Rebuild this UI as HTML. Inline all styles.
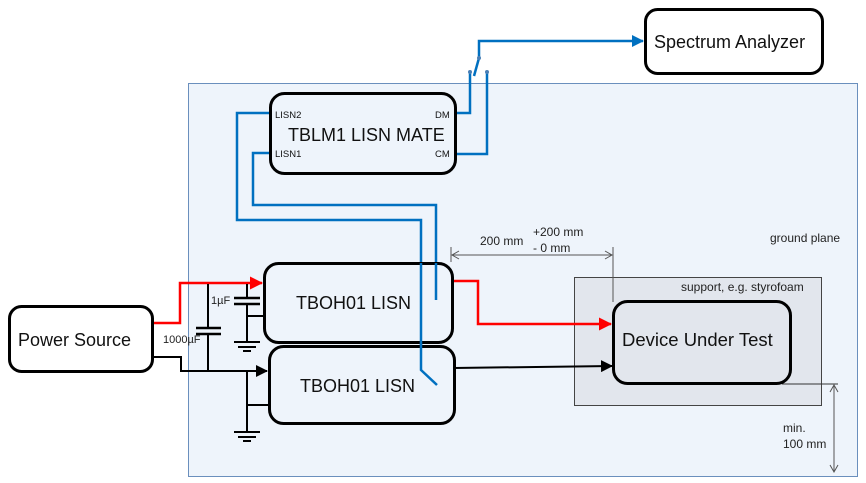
<!DOCTYPE html>
<html><head><meta charset="utf-8"><style>
html,body{margin:0;padding:0;background:#fff;}
svg{display:block;font-family:"Liberation Sans",sans-serif;}
</style></head><body>
<svg width="866" height="483" viewBox="0 0 866 483" xmlns="http://www.w3.org/2000/svg">
<defs>
<marker id="ak" markerWidth="12" markerHeight="12" refX="11" refY="6" orient="auto" markerUnits="userSpaceOnUse"><path d="M0,0 L12,6 L0,12 z" fill="#000"/></marker>
<marker id="ar" markerWidth="13" markerHeight="13" refX="12" refY="6.5" orient="auto" markerUnits="userSpaceOnUse"><path d="M0,0 L13,6.5 L0,13 z" fill="#f00"/></marker>
<marker id="ab" markerWidth="12" markerHeight="12" refX="11" refY="6" orient="auto" markerUnits="userSpaceOnUse"><path d="M0,0 L12,6 L0,12 z" fill="#0070c0"/></marker>
</defs>
<!-- ground plane -->
<rect x="188.5" y="83.5" width="669" height="393" fill="#eef4fb" stroke="#6a8fbd" stroke-width="1"/>
<text x="770" y="242" font-size="12" fill="#222">ground plane</text>
<!-- support -->
<rect x="574.5" y="277.5" width="247" height="128" fill="#e2e6ed" stroke="#444" stroke-width="1"/>
<text x="681" y="291" font-size="12" fill="#222">support, e.g. styrofoam</text>
<!-- dimension 200mm -->
<g stroke="#555" fill="none" stroke-width="1">
<line x1="451" y1="247" x2="451" y2="262"/>
<line x1="613" y1="247" x2="613" y2="302"/>
<line x1="452" y1="255" x2="612" y2="255"/>
<polyline points="459,251 452,255 459,259"/>
<polyline points="605,251 612,255 605,259"/>
</g>
<text x="480" y="245" font-size="12" fill="#222">200 mm</text>
<text x="533" y="236" font-size="12" fill="#222">+200 mm</text>
<text x="533" y="252" font-size="12" fill="#222">- 0 mm</text>
<!-- min 100mm -->
<g stroke="#555" fill="none" stroke-width="1">
<line x1="782" y1="384" x2="838" y2="384" stroke="#333"/>
<line x1="834" y1="385" x2="834" y2="472"/>
<polyline points="830,392 834,385 838,392"/>
<polyline points="830,465 834,472 838,465"/>
</g>
<text x="783" y="432" font-size="12" fill="#222">min.</text>
<text x="783" y="448" font-size="12" fill="#222">100 mm</text>
<!-- blue wires -->
<g fill="none" stroke="#0070c0" stroke-width="2.5">
<polyline points="272,113 237,113 237,220 421,220 421,370 437,385"/>
<polyline points="272,153 253,153 253,205 436,205 436,300"/>
<polyline points="455,113 470,113 470,73"/>
<polyline points="455,154 487,154 487,73"/>
<line x1="479" y1="58" x2="474" y2="76"/>
<polyline points="479,58 479,41 643,41" marker-end="url(#ab)"/>
</g>
<circle cx="470" cy="72" r="2" fill="#4a7fb5"/>
<circle cx="487" cy="72" r="2" fill="#4a7fb5"/>
<circle cx="479" cy="58" r="2" fill="#4a7fb5"/>
<!-- red wires -->
<g fill="none" stroke="#f00" stroke-width="2.5">
<polyline points="152,323 180,323 180,283 262,283" marker-end="url(#ar)"/>
<polyline points="452,281 478,281 478,324 611,324" marker-end="url(#ar)"/>
</g>
<!-- black wires -->
<g fill="none" stroke="#000" stroke-width="2">
<polyline points="152,357 181,357 181,371 267,371" marker-end="url(#ak)"/>
<line x1="454" y1="368" x2="612" y2="366" marker-end="url(#ak)"/>
<line x1="208" y1="284" x2="208" y2="328"/>
<line x1="208" y1="334" x2="208" y2="371"/>
<line x1="196" y1="328" x2="221" y2="328" stroke-width="2.5"/>
<line x1="196" y1="334" x2="221" y2="334" stroke-width="2.5"/>
<line x1="247" y1="284" x2="247" y2="298"/>
<line x1="247" y1="304" x2="247" y2="342"/>
<line x1="234" y1="298" x2="260" y2="298" stroke-width="2.5"/>
<line x1="234" y1="304" x2="260" y2="304" stroke-width="2.5"/>
<line x1="247" y1="316" x2="265" y2="316"/>
<line x1="234" y1="342" x2="260" y2="342"/>
<line x1="238" y1="347" x2="256" y2="347"/>
<line x1="243" y1="351" x2="251" y2="351"/>
<line x1="247" y1="371" x2="247" y2="432"/>
<line x1="247" y1="405" x2="269" y2="405"/>
<line x1="234" y1="432" x2="260" y2="432"/>
<line x1="238" y1="437" x2="256" y2="437"/>
<line x1="243" y1="441" x2="251" y2="441"/>
</g>
<text x="211" y="304" font-size="11" fill="#222">1µF</text>
<text x="163" y="343" font-size="11" fill="#222">1000µF</text>
<!-- boxes -->
<g stroke="#000" stroke-width="3">
<rect x="9.5" y="306.5" width="143" height="65" rx="12" fill="#fff"/>
<rect x="645.5" y="9.5" width="177" height="64" rx="12" fill="#fff"/>
<rect x="270.5" y="93.5" width="185" height="80" rx="14" fill="#eef4fb"/>
<rect x="264.5" y="263.5" width="188" height="79" rx="14" fill="#eef4fb"/>
<rect x="269.5" y="346.5" width="185" height="77" rx="14" fill="#eef4fb"/>
<rect x="613.5" y="301.5" width="177" height="82" rx="14" fill="#e2e6ed"/>
</g>
<g fill="none" stroke="#0070c0" stroke-width="2.5">
<polyline points="421,263 421,370 437,385"/>
<line x1="436" y1="263" x2="436" y2="300"/>
</g>
<g fill="#111">
<text x="18" y="346" font-size="18">Power Source</text>
<text x="654" y="48" font-size="18">Spectrum Analyzer</text>
<text x="288" y="141" font-size="18">TBLM1 LISN MATE</text>
<text x="275" y="118" font-size="9.5">LISN2</text>
<text x="275" y="157" font-size="9.5">LISN1</text>
<text x="435" y="118" font-size="9.5">DM</text>
<text x="435" y="157" font-size="9.5">CM</text>
<text x="296" y="309" font-size="18">TBOH01 LISN</text>
<text x="300" y="392" font-size="18">TBOH01 LISN</text>
<text x="622" y="346" font-size="18.5">Device Under Test</text>
</g>
</svg>
</body></html>
